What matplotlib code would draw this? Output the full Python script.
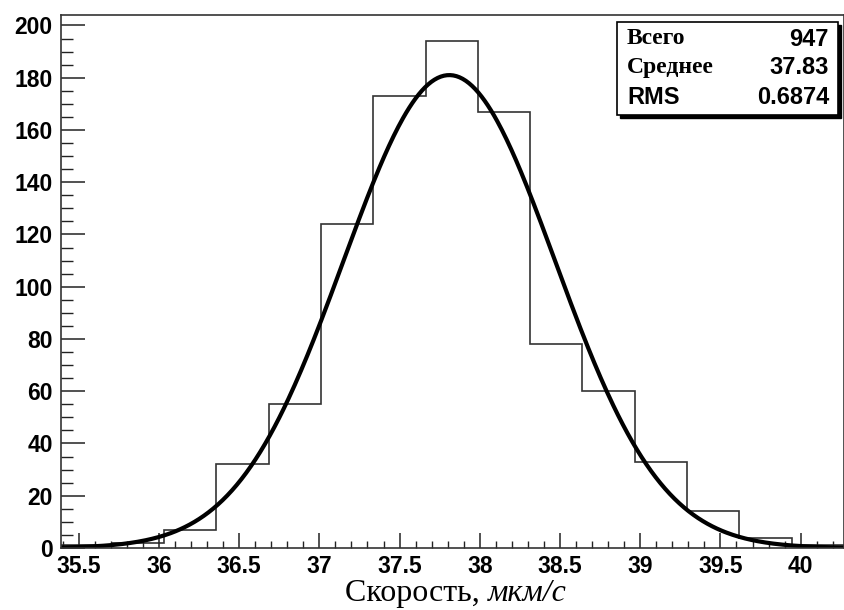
import numpy as np
import matplotlib
matplotlib.use("Agg")
import matplotlib.pyplot as plt
from matplotlib.patches import Rectangle
from matplotlib.ticker import MultipleLocator

# histogram data
bin_lo = 35.38
bin_width = 0.326
counts = [1, 2, 7, 32, 55, 124, 173, 194, 167, 78, 60, 33, 14, 4, 1]

# gaussian fit parameters
fit_amp = 181.0
fit_mean = 37.81
fit_sigma = 0.66

# stat box
stat_names = ["Всего", "Среднее", "RMS"]
stat_values = ["947", "37.83", "0.6874"]

x_ticks = [35.5, 36, 36.5, 37, 37.5, 38, 38.5, 39, 39.5, 40]
x_tick_labels = ["35.5", "36", "36.5", "37", "37.5", "38", "38.5", "39", "39.5", "40"]
y_ticks = [0, 20, 40, 60, 80, 100, 120, 140, 160, 180, 200]

W, H = 845, 610
fig = plt.figure(figsize=(W / 100, H / 100), dpi=100)
ax = fig.add_axes([61 / W, (H - 548) / H, (844 - 61) / W, (548 - 15) / H])

edges = bin_lo + bin_width * np.arange(len(counts) + 1)
ax.stairs(counts, edges, baseline=0, color="#333333", lw=1.2)

xs = np.linspace(35.39, 40.27, 500)
ax.plot(xs, fit_amp * np.exp(-(xs - fit_mean) ** 2 / (2 * fit_sigma ** 2)),
        color="black", lw=3.0, solid_capstyle="butt")

ax.set_xlim(35.39, 40.27)
ax.set_ylim(0, 204)

ax.set_xticks(x_ticks)
ax.set_xticklabels(x_tick_labels)
ax.set_yticks(y_ticks)
ax.xaxis.set_minor_locator(MultipleLocator(0.1))
ax.yaxis.set_minor_locator(MultipleLocator(5))
ax.tick_params(axis="x", which="major", direction="in", length=11, width=1.1, pad=5,
               labelsize=16.5, color="#222222")
ax.tick_params(axis="x", which="minor", direction="in", length=5, width=1.0, color="#222222")
ax.tick_params(axis="y", which="major", direction="in", length=17, width=1.1, pad=6,
               labelsize=16.5, color="#222222")
ax.tick_params(axis="y", which="minor", direction="in", length=8.5, width=1.0, color="#222222")
for lab in ax.get_xticklabels() + ax.get_yticklabels():
    lab.set_fontfamily("Liberation Sans")
    lab.set_fontweight("bold")
for sp in ax.spines.values():
    sp.set_color("#333333")
    sp.set_linewidth(1.2)

# axis title: upright part + italic unit, centred under the axes
fig.text(488 / W, (H - 601) / H, "Скорость, ", fontsize=23, family="Liberation Serif",
         ha="right", va="baseline")
fig.text(488 / W, (H - 601) / H, "мкм/с", fontsize=23, family="Liberation Serif",
         style="italic", ha="left", va="baseline")

# stat box with shadow
bx0, by0, bx1, by1 = 617, 22, 838, 115
fig.patches.append(Rectangle(((bx0 + 3) / W, (H - by1 - 3) / H), (bx1 - bx0) / W, (by1 - by0) / H,
                             transform=fig.transFigure, facecolor="black", edgecolor="black", zorder=5))
fig.patches.append(Rectangle((bx0 / W, (H - by1) / H), (bx1 - bx0) / W, (by1 - by0) / H,
                             transform=fig.transFigure, facecolor="white", edgecolor="black",
                             lw=1.2, zorder=6))
rows_y = [39, 68, 97]
for name, val, ry in zip(stat_names, stat_values, rows_y):
    fam = "Liberation Sans" if name == "RMS" else "Liberation Serif"
    fig.text(627 / W, (H - ry) / H, name, fontsize=17, fontweight="bold", family=fam,
             ha="left", va="center", zorder=7)
    fig.text(829 / W, (H - ry) / H, val, fontsize=17, fontweight="bold", family="Liberation Sans",
             ha="right", va="center", zorder=7)

fig.savefig("out.png", dpi=100, facecolor="white")
